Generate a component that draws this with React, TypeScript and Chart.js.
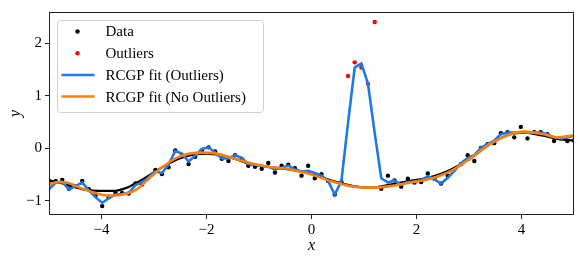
import React, { useEffect, useRef } from "react";
import { Chart, registerables } from "chart.js";

Chart.register(...registerables);

// ---- data ----
const sampleX = [
  -5.0, -4.873, -4.747, -4.62, -4.494, -4.367, -4.241, -4.114, -3.987, -3.861,
  -3.734, -3.608, -3.481, -3.354, -3.228, -3.101, -2.975, -2.848, -2.722, -2.595,
  -2.468, -2.342, -2.215, -2.089, -1.962, -1.835, -1.709, -1.582, -1.456, -1.329,
  -1.203, -1.076, -0.949, -0.823, -0.696, -0.57, -0.443, -0.316, -0.19, -0.063,
  0.063, 0.19, 0.316, 0.443, 0.57, 0.696, 0.823, 0.949, 1.076, 1.203,
  1.329, 1.456, 1.582, 1.709, 1.835, 1.962, 2.089, 2.215, 2.342, 2.468,
  2.595, 2.722, 2.848, 2.975, 3.101, 3.228, 3.354, 3.481, 3.608, 3.734,
  3.861, 3.987, 4.114, 4.241, 4.367, 4.494, 4.62, 4.747, 4.873, 5.0,
];

const dataY = [
  -0.62, -0.62, -0.6, -0.77, -0.72, -0.62, -0.78, -0.9, -1.1, -0.93,
  -0.85, -0.85, -0.86, -0.67, -0.69, -0.55, -0.41, -0.49, -0.36, -0.04,
  -0.13, -0.3, -0.16, -0.04, 0.02, -0.06, -0.2, -0.24, -0.13, -0.2,
  -0.33, -0.35, -0.39, -0.28, -0.46, -0.33, -0.31, -0.38, -0.52, -0.33,
  -0.57, -0.49, -0.62, -0.88, -0.64, null, null, null, null, null,
  -0.77, -0.52, -0.61, -0.73, -0.58, -0.65, -0.64, -0.48, -0.58, -0.67,
  -0.52, -0.4, -0.3, -0.13, -0.24, 0.01, 0.08, 0.1, 0.29, 0.31,
  0.21, 0.41, 0.19, 0.31, 0.31, 0.27, 0.14, 0.19, 0.14, 0.15,
];

const outlierX = [0.696, 0.823, 0.949, 1.076, 1.203];
const outlierY = [1.38, 1.64, 1.54, 1.23, 2.41];

const fitOutliersY = [
  -0.78, -0.65, -0.64, -0.78, -0.72, -0.65, -0.8, -0.93, -1.04, -0.95,
  -0.88, -0.87, -0.85, -0.7, -0.65, -0.55, -0.44, -0.47, -0.31, -0.05,
  -0.1, -0.25, -0.14, -0.01, 0.02, -0.08, -0.19, -0.19, -0.13, -0.18,
  -0.3, -0.31, -0.33, -0.35, -0.4, -0.37, -0.33, -0.4, -0.44, -0.43,
  -0.47, -0.52, -0.62, -0.88, -0.62, 0.49, 1.54, 1.62, 1.23, 0.3,
  -0.57, -0.65, -0.61, -0.7, -0.64, -0.64, -0.61, -0.53, -0.59, -0.67,
  -0.56, -0.43, -0.28, -0.18, -0.13, 0.01, 0.08, 0.15, 0.27, 0.3,
  0.3, 0.31, 0.3, 0.3, 0.3, 0.27, 0.21, 0.19, 0.21, 0.24,
];

const fitCleanX = [
  -5, -4.83, -4.67, -4.41, -4.16, -3.84, -3.59, -3.33, -3.08, -2.83,
  -2.57, -2.32, -2.06, -1.81, -1.49, -1.17, -0.85, -0.54, -0.25, -0.03,
  0.35, 0.74, 1.12, 1.5, 1.88, 2.26, 2.64, 3.03, 3.41, 3.79,
  4.04, 4.42, 4.68, 5,
];
const fitCleanY = [
  -0.69, -0.64, -0.65, -0.75, -0.84, -0.9, -0.88, -0.78, -0.56, -0.35,
  -0.18, -0.1, -0.08, -0.1, -0.19, -0.28, -0.35, -0.38, -0.44, -0.49,
  -0.62, -0.72, -0.75, -0.72, -0.65, -0.58, -0.44, -0.19, 0.09, 0.27,
  0.32, 0.27, 0.21, 0.25,
];

const trueX = [
  -5, -4.67, -4.35, -4.03, -3.78, -3.52, -3.27, -3.02, -2.76, -2.51,
  -2.25, -2.0, -1.74, -1.49, -1.23, -0.85, -0.5, -0.25, 0, 0.4,
  0.8, 1.12, 1.5, 1.88, 2.26, 2.64, 3.03, 3.41, 3.79, 4.04,
  4.42, 4.68, 5,
];
const trueY = [
  -0.61, -0.69, -0.78, -0.81, -0.81, -0.75, -0.62, -0.47, -0.31, -0.19,
  -0.12, -0.1, -0.13, -0.19, -0.28, -0.35, -0.39, -0.43, -0.48, -0.62,
  -0.72, -0.75, -0.69, -0.62, -0.55, -0.41, -0.19, 0.09, 0.27, 0.3,
  0.24, 0.18, 0.15,
];

const xTicks = [-4, -2, 0, 2, 4];
const yTicks = [-1, 0, 1, 2];
const legendLabels = ["Data", "Outliers", "RCGP fit (Outliers)", "RCGP fit (No Outliers)"];

const BLUE = "#1f78e6";
const ORANGE = "#ff7f0e";
const FONT = "'Liberation Serif', 'Times New Roman', serif";

const fmt = (v: number) => (v < 0 ? "\u2212" + Math.abs(v) : String(v));

const framePlugin = {
  id: "frame",
  afterDatasetsDraw(chart: any) {
    const { ctx, chartArea: a } = chart;
    ctx.save();
    ctx.strokeStyle = "#222";
    ctx.lineWidth = 1;
    ctx.strokeRect(a.left + 0.5, a.top + 0.5, a.right - a.left - 1, a.bottom - a.top - 1);
    ctx.restore();
  },
};

const legendPlugin = {
  id: "mplLegend",
  afterDraw(chart: any) {
    const { ctx, chartArea: a } = chart;
    const x0 = a.left + 8.5;
    const y0 = a.top + 8.5;
    const w = 206;
    const h = 92;
    ctx.save();
    ctx.beginPath();
    ctx.roundRect(x0, y0, w, h, 3);
    ctx.fillStyle = "rgba(255,255,255,0.85)";
    ctx.fill();
    ctx.strokeStyle = "#d0d0d0";
    ctx.lineWidth = 1;
    ctx.stroke();
    const rowY = (k: number) => y0 + 11 + k * 21.7;
    const mx = x0 + 20;
    // markers
    ctx.fillStyle = "#000";
    ctx.beginPath();
    ctx.arc(mx, rowY(0), 2.2, 0, Math.PI * 2);
    ctx.fill();
    ctx.fillStyle = "red";
    ctx.beginPath();
    ctx.arc(mx, rowY(1), 2.2, 0, Math.PI * 2);
    ctx.fill();
    ctx.lineWidth = 2.5;
    ctx.strokeStyle = BLUE;
    ctx.beginPath();
    ctx.moveTo(x0 + 4, rowY(2));
    ctx.lineTo(x0 + 37, rowY(2));
    ctx.stroke();
    ctx.strokeStyle = ORANGE;
    ctx.beginPath();
    ctx.moveTo(x0 + 4, rowY(3));
    ctx.lineTo(x0 + 37, rowY(3));
    ctx.stroke();
    // labels
    ctx.fillStyle = "#000";
    ctx.font = `15px ${FONT}`;
    ctx.textBaseline = "middle";
    ctx.textAlign = "left";
    legendLabels.forEach((t, k) => ctx.fillText(t, x0 + 48, rowY(k) + 1));
    ctx.restore();
  },
};

export default function App() {
  const ref = useRef<HTMLCanvasElement | null>(null);

  useEffect(() => {
    document.body.style.margin = "0";
    const canvas = ref.current;
    if (!canvas) return;

    const chart = new Chart(canvas, {
      type: "scatter",
      data: {
        datasets: [
          {
            type: "line",
            label: "RCGP fit (No Outliers)",
            data: fitCleanX.map((x, i) => ({ x, y: fitCleanY[i] })),
            borderColor: ORANGE,
            borderWidth: 2.6,
            pointRadius: 0,
            cubicInterpolationMode: "monotone",
            fill: false,
            order: 0,
          },
          {
            type: "line",
            label: "RCGP fit (Outliers)",
            data: sampleX.map((x, i) => ({ x, y: fitOutliersY[i] })),
            borderColor: BLUE,
            borderWidth: 2.6,
            pointRadius: 0,
            tension: 0,
            fill: false,
            order: 1,
          },
          {
            type: "scatter",
            label: "Outliers",
            data: outlierX.map((x, i) => ({ x, y: outlierY[i] })),
            backgroundColor: "red",
            borderWidth: 0,
            pointRadius: 2.2,
            order: 2,
          },
          {
            type: "scatter",
            label: "Data",
            data: sampleX
              .map((x, i) => ({ x, y: dataY[i] }))
              .filter((p) => p.y !== null),
            backgroundColor: "#000",
            borderWidth: 0,
            pointRadius: 2.2,
            order: 3,
          },
          {
            type: "line",
            label: "True",
            data: trueX.map((x, i) => ({ x, y: trueY[i] })),
            borderColor: "#000",
            borderWidth: 2.2,
            pointRadius: 0,
            cubicInterpolationMode: "monotone",
            fill: false,
            order: 4,
          },
        ],
      },
      options: {
        animation: false,
        responsive: false,
        devicePixelRatio: 1,
        layout: { padding: { top: 6, right: 7, left: 0, bottom: 0 } },
        plugins: { legend: { display: false }, tooltip: { enabled: false } },
        scales: {
          x: {
            type: "linear",
            min: -5,
            max: 5,
            afterBuildTicks: (s: any) => {
              s.ticks = xTicks.map((v) => ({ value: v }));
            },
            afterFit: (s: any) => {
              s.height = 44;
            },
            grid: {
              display: true,
              drawOnChartArea: false,
              drawTicks: true,
              tickLength: 4,
              tickColor: "#222",
              tickWidth: 1,
            },
            border: { display: false },
            ticks: {
              autoSkip: false,
              maxRotation: 0,
              padding: 2,
              color: "#000",
              font: { family: FONT, size: 15 },
              callback: (v: any) => fmt(Number(v)),
            },
            title: {
              display: true,
              text: "x",
              color: "#000",
              font: { family: FONT, size: 16, style: "italic" },
              padding: { top: 0, bottom: 4 },
            },
          },
          y: {
            type: "linear",
            min: -1.27,
            max: 2.6,
            afterBuildTicks: (s: any) => {
              s.ticks = yTicks.map((v) => ({ value: v }));
            },
            afterFit: (s: any) => {
              s.width = 49;
            },
            grid: {
              display: true,
              drawOnChartArea: false,
              drawTicks: true,
              tickLength: 4,
              tickColor: "#222",
              tickWidth: 1,
            },
            border: { display: false },
            ticks: {
              autoSkip: false,
              padding: 3,
              color: "#000",
              font: { family: FONT, size: 15 },
              callback: (v: any) => fmt(Number(v)),
            },
            title: {
              display: true,
              text: "y",
              color: "#000",
              font: { family: FONT, size: 16, style: "italic" },
              padding: { top: 6, bottom: 6 },
            },
          },
        },
      },
      plugins: [framePlugin, legendPlugin],
    } as any);

    return () => chart.destroy();
  }, []);

  return (
    <div style={{ position: "fixed", left: 0, top: 0, width: 581, height: 259 }}>
      <canvas ref={ref} width={581} height={259} style={{ display: "block" }} />
    </div>
  );
}
